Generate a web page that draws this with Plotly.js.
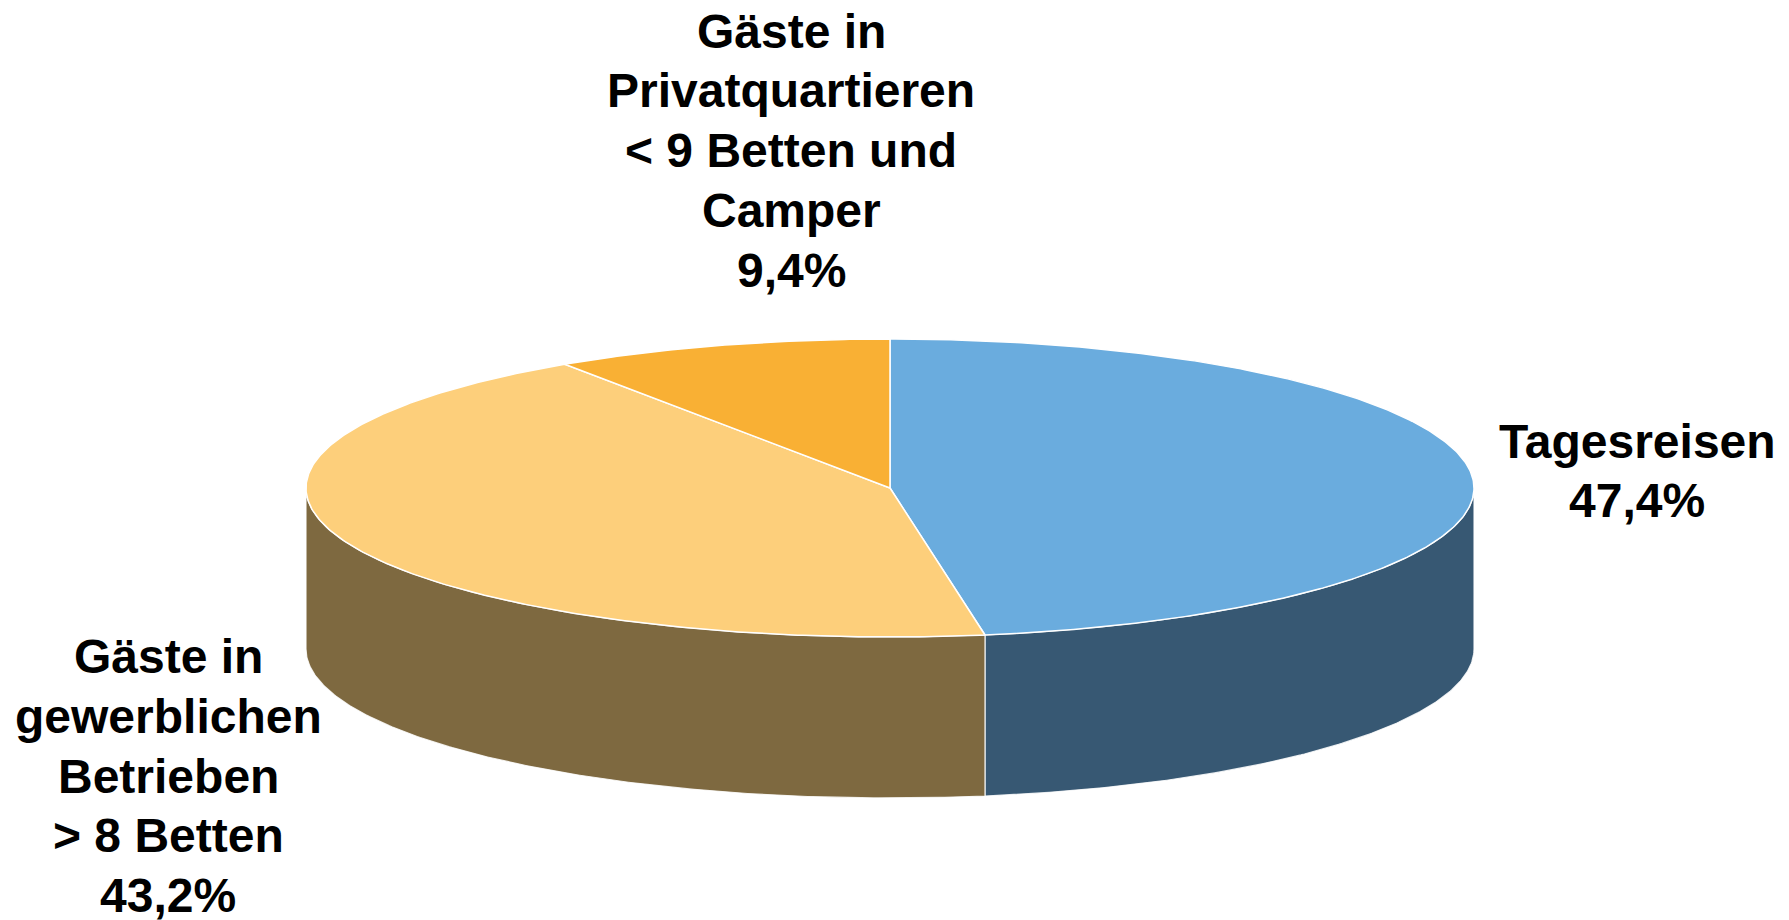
<!DOCTYPE html>
<html>
<head>
<meta charset="utf-8">
<script src="https://cdn.plot.ly/plotly-3.0.1.min.js"></script>
<style>html,body{margin:0;padding:0;background:#fff;}#chart{width:1789px;height:920px;}</style>
</head>
<body>
<div id="chart"></div>
<script>
// ---- data ----
const categories = ['Tagesreisen', 'Gäste in gewerblichen Betrieben > 8 Betten', 'Gäste in Privatquartieren < 9 Betten und Camper'];
const values = [47.4, 43.2, 9.4];
const labelLines = [
  ['Tagesreisen'],
  ['Gäste in', 'gewerblichen', 'Betrieben', '> 8 Betten'],
  ['Gäste in', 'Privatquartieren', '< 9 Betten und', 'Camper']
];
const topColors = ['#6AACDE', '#FDCF7B', '#F9B034'];
const sideColors = ['#375873', '#7E6940', '#A8761E'];

// ---- geometry (pixel space) ----
const W = 1789, H = 920;
const cx = 890, cy = 488, rx = 584, ry = 149, depth = 161;
const lineGap = 59.8;
const labelPos = [
  {x: 1637, y: 441},
  {x: 168, y: 656.5},
  {x: 791, y: 31}
];

function pt(deg, dy) {
  const r = deg * Math.PI / 180;
  return [cx + rx * Math.sin(r), cy - ry * Math.cos(r) + (dy || 0)];
}

const total = values.reduce((a, b) => a + b, 0);
const traces = [];
const tops = [];
let start = 0;
values.forEach((v, i) => {
  const sweep = v / total * 360;
  const end = start + sweep;
  // side wall (visible front half: 90..270 degrees)
  const a0 = Math.max(start, 90), a1 = Math.min(end, 270);
  if (a1 > a0) {
    const xs = [], ys = [];
    const n = Math.max(2, Math.ceil((a1 - a0) * 2));
    for (let k = 0; k <= n; k++) { const p = pt(a0 + (a1 - a0) * k / n, 0); xs.push(p[0]); ys.push(p[1]); }
    for (let k = n; k >= 0; k--) { const p = pt(a0 + (a1 - a0) * k / n, depth); xs.push(p[0]); ys.push(p[1]); }
    xs.push(xs[0]); ys.push(ys[0]);
    traces.push({type: 'scatter', mode: 'lines', x: xs, y: ys, fill: 'toself',
      fillcolor: sideColors[i], line: {color: 'rgba(255,255,255,0.85)', width: 1.2},
      hoverinfo: 'skip', showlegend: false});
  }
  // top sector
  const xs = [cx], ys = [cy];
  const n = Math.max(2, Math.ceil(sweep * 2));
  for (let k = 0; k <= n; k++) { const p = pt(start + sweep * k / n, 0); xs.push(p[0]); ys.push(p[1]); }
  xs.push(cx); ys.push(cy);
  tops.push({type: 'scatter', mode: 'lines', x: xs, y: ys, fill: 'toself',
    fillcolor: topColors[i], line: {color: '#FFFFFF', width: 1.5},
    name: categories[i], hoverinfo: 'name', showlegend: false});
  start = end;
});

const annotations = [];
values.forEach((v, i) => {
  const lines = labelLines[i].concat([v.toFixed(1).replace('.', ',') + '%']);
  lines.forEach((txt, k) => {
    annotations.push({
      x: labelPos[i].x, y: labelPos[i].y + k * lineGap, xref: 'x', yref: 'y',
      text: txt, showarrow: false, xanchor: 'center', yanchor: 'middle', align: 'center',
      font: {family: 'Liberation Sans, Arial, sans-serif', size: 48, color: '#000000', weight: 700}
    });
  });
});

const layout = {
  width: W, height: H,
  margin: {l: 0, r: 0, t: 0, b: 0, pad: 0},
  paper_bgcolor: '#FFFFFF', plot_bgcolor: '#FFFFFF',
  xaxis: {range: [0, W], visible: false, fixedrange: true},
  yaxis: {range: [H, 0], visible: false, fixedrange: true},
  annotations: annotations,
  showlegend: false
};

Plotly.newPlot('chart', traces.concat(tops), layout, {displayModeBar: false, staticPlot: true});
</script>
</body>
</html>
